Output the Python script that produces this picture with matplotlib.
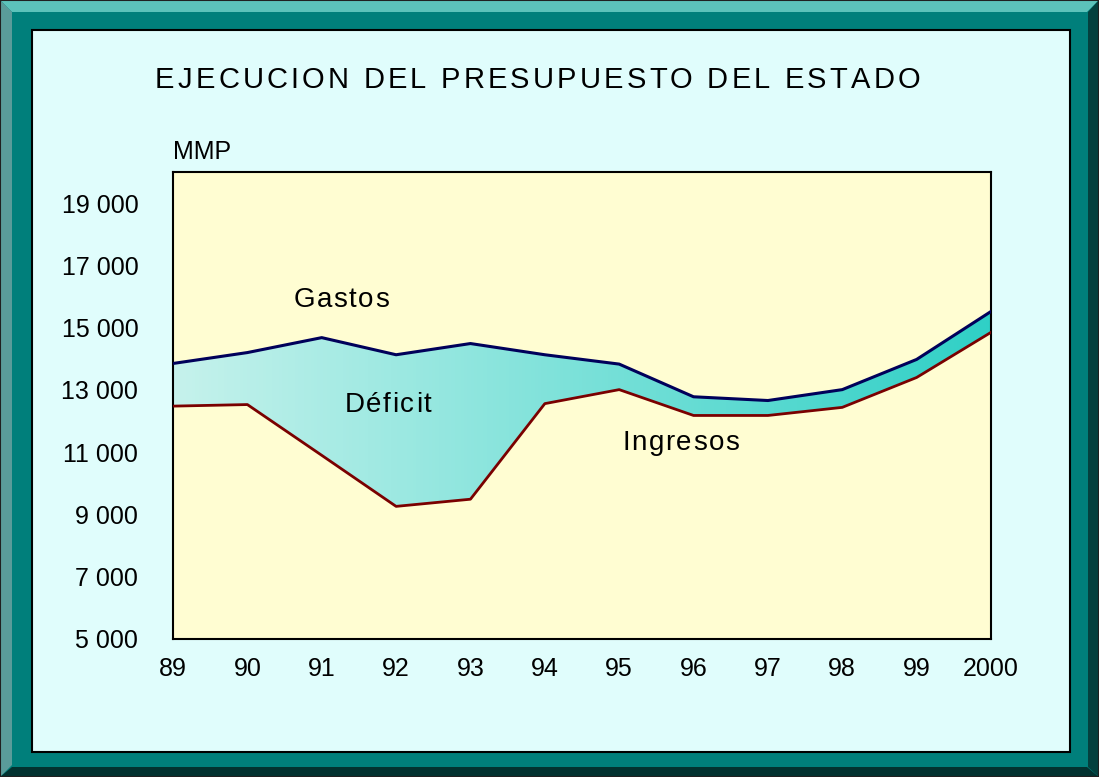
import numpy as np
import matplotlib.pyplot as plt
from matplotlib.patches import Rectangle, Polygon
from matplotlib.colors import LinearSegmentedColormap
from matplotlib.font_manager import FontProperties

plt.rcParams['font.family'] = ['Liberation Sans', 'DejaVu Sans']

# Datos (MMP)
years = ['89', '90', '91', '92', '93', '94', '95', '96', '97', '98', '99', '2000']
gastos = [13850, 14200, 14680, 14130, 14490, 14130, 13830, 12780, 12660, 13010, 13980, 15520]
ingresos = [12480, 12530, 10900, 9260, 9490, 12560, 13010, 12180, 12180, 12440, 13400, 14850]
yticks = [5000, 7000, 9000, 11000, 13000, 15000, 17000, 19000]

W, H = 1099, 777
fig = plt.figure(figsize=(W / 100, H / 100), dpi=100)
renderer = fig.canvas.get_renderer()

def px_rect(x0, y0, x1, y1, color, z=0, ec='none', lw=0):
    fig.patches.append(Rectangle((x0 / W, 1 - y1 / H), (x1 - x0) / W, (y1 - y0) / H,
                                 transform=fig.transFigure, facecolor=color,
                                 edgecolor=ec, linewidth=lw, zorder=z))

def px_poly(pts, color, z=0):
    fig.patches.append(Polygon([(x / W, 1 - y / H) for x, y in pts], closed=True,
                               transform=fig.transFigure, facecolor=color,
                               edgecolor='none', zorder=z))

def spaced(s, x, y, size, spacing=None, width=None, ha='center'):
    # texto con espaciado entre letras; x, y en pixeles (y desde abajo)
    prop = FontProperties(family='Liberation Sans', size=size)
    ws = [renderer.get_text_width_height_descent(c, prop, False)[0] for c in s]
    if width is not None:
        spacing = (width - sum(ws)) / (len(s) - 1)
    total = sum(ws) + spacing * (len(s) - 1)
    xpos = x - total / 2 if ha == 'center' else x
    for c, w in zip(s, ws):
        fig.text(xpos / W, y / H, c, fontproperties=prop, ha='left', va='center', zorder=10)
        xpos += w + spacing

# marco biselado
px_rect(0, 0, W, H, '#007f7b')
px_poly([(0, 0), (W, 0), (W - 12, 12), (12, 12)], '#5cc2ba', 1)
px_poly([(0, 0), (12, 12), (12, H - 12), (0, H)], '#5a9c9a', 1)
px_poly([(0, H), (12, H - 10), (W - 12, H - 10), (W, H)], '#023230', 1)
px_poly([(W, 0), (W, H), (W - 11, H - 10), (W - 11, 12)], '#04403e', 1)
px_rect(0, 0, W, H, 'none', 2, ec='#202020', lw=1.5)
px_rect(32, 30, 1070, 752, '#e0fdfc', 3, ec='black', lw=1.5)

ax = fig.add_axes([173 / W, 1 - 639 / H, (991 - 173) / W, (639 - 172) / H])
ax.set_zorder(5)
ax.set_facecolor('#fffdd2')
x = np.arange(len(years))

# relleno con degradado (Déficit)
cmap = LinearSegmentedColormap.from_list('def', ['#c6f2ec', '#2fd0c6'])
grad = np.linspace(0, 1, 256).reshape(1, -1)
im = ax.imshow(grad, cmap=cmap, aspect='auto', extent=(0, len(years) - 1, 5000, 20000),
               zorder=1)
fill = ax.fill_between(x, ingresos, gastos, facecolor='none', edgecolor='none')
im.set_clip_path(fill.get_paths()[0], transform=ax.transData)

ax.plot(x, gastos, color='#00005a', lw=2.2, zorder=3)
ax.plot(x, ingresos, color='#7a0000', lw=2.0, zorder=3)

ax.set_xlim(0, len(years) - 1)
ax.set_ylim(5000, 20000)
ax.set_xticks(x)
ax.set_xticklabels(years)
ax.set_yticks(yticks)
ax.set_yticklabels([f'{v:,}'.replace(',', ' ') for v in yticks])
ax.tick_params(length=0, labelsize=18)
ax.tick_params(axis='y', pad=25)
ax.tick_params(axis='x', pad=13)
for s in ax.spines.values():
    s.set_linewidth(1.5)
    s.set_color('black')

# etiquetas de series, ancladas en coordenadas de datos
for label, (dx, dy) in [('Gastos', (2.26, 15890)), ('Déficit', (2.89, 12520)),
                        ('Ingresos', (6.83, 11300))]:
    px, py = ax.transData.transform((dx, dy))
    spaced(label, px, py, 20, spacing=1.6)

fig.text(173 / W, 1 - 152 / H, 'MMP', fontsize=18, ha='left', va='center')

# título
spaced('EJECUCION DEL PRESUPUESTO DEL ESTADO', 155, H - 80, 21, width=765, ha='left')

fig.savefig('out.png', dpi=100)
